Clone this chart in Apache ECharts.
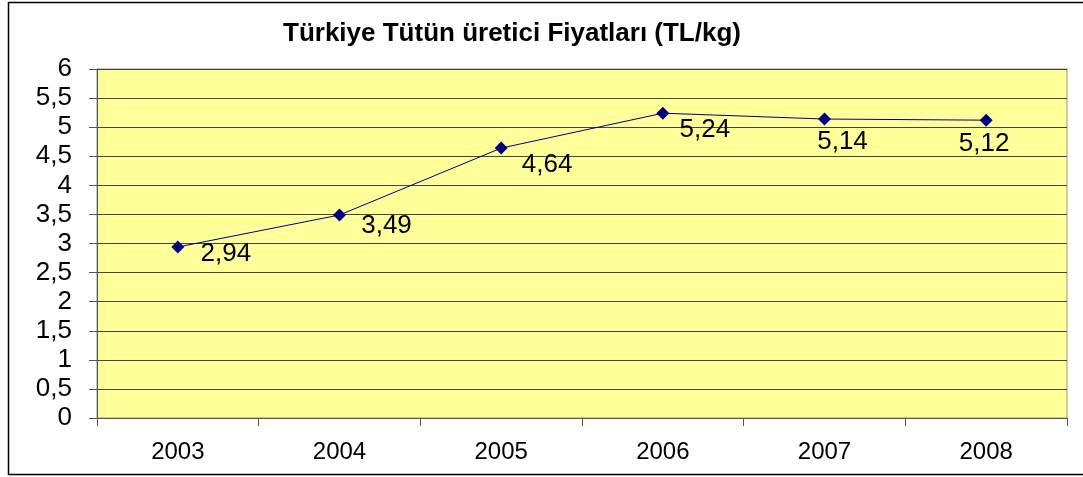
<!DOCTYPE html>
<html>
<head>
<meta charset="utf-8">
<script src="https://cdn.jsdelivr.net/npm/echarts@6/dist/echarts.min.js"></script>
<style>
    html, body { margin: 0; padding: 0; background: #fff; }
    #chart { width: 1083px; height: 477px; }
</style>
</head>
<body>
<div id="chart"></div>
<script>
// data
let years = ['2003', '2004', '2005', '2006', '2007', '2008'];
let prices = [2.94, 3.49, 4.64, 5.24, 5.14, 5.12];
let priceLabels = ['2,94', '3,49', '4,64', '5,24', '5,14', '5,12'];

// label placement per point (Excel put them in slightly different spots)
let labelOffsets = [[48, 7], [47, 11], [46, 17], [42, 17], [18, 23], [-2, 24]];

let ctx = document.getElementById("chart");
let chart = echarts.init(ctx, null, {renderer: 'canvas'});

let seriesData = prices.map((v, i) => ({
    value: v,
    label: {
        offset: labelOffsets[i],
        formatter: priceLabels[i]
    }
}));

let option = {
    animation: false,
    textStyle: {
        fontFamily: 'Liberation Sans, Arial, sans-serif'
    },
    title: {
        text: 'Türkiye Tütün üretici Fiyatları (TL/kg)',
        left: 507,
        top: 16,
        textAlign: 'center',
        textStyle: {
            fontSize: 26,
            fontWeight: 'bold',
            color: '#000'
        }
    },
    graphic: [{
        type: 'rect',
        shape: {x: 8.5, y: 2.5, width: 1090, height: 472},
        style: {fill: 'none', stroke: '#000', lineWidth: 1.5},
        z: -1
    }],
    grid: {
        left: 97,
        right: 16,
        top: 69,
        bottom: 59,
        show: true,
        backgroundColor: '#FFFF99',
        borderColor: '#999977',
        borderWidth: 1
    },
    xAxis: {
        type: 'category',
        data: years,
        boundaryGap: true,
        axisLine: {lineStyle: {color: '#555', width: 1}},
        axisTick: {show: true, length: 8, lineStyle: {color: '#555'}},
        axisLabel: {fontSize: 24, color: '#000', margin: 22}
    },
    yAxis: {
        type: 'value',
        min: 0,
        max: 6,
        interval: 0.5,
        axisLine: {show: true, lineStyle: {color: '#555', width: 1}},
        axisTick: {show: true, length: 8, lineStyle: {color: '#555'}},
        axisLabel: {
            fontSize: 26,
            color: '#000',
            margin: 25,
            formatter: v => String(v).replace('.', ',')
        },
        splitLine: {show: true, lineStyle: {color: '#444', width: 1}}
    },
    series: [{
        name: 'Fiyat',
        type: 'line',
        data: seriesData,
        symbol: 'diamond',
        symbolSize: 13,
        showSymbol: true,
        itemStyle: {color: '#000080'},
        lineStyle: {color: '#000080', width: 1},
        label: {
            show: true,
            position: 'inside',
            fontSize: 26,
            color: '#000'
        }
    }]
};

chart.setOption(option, true);

window.onresize = () => {
    chart.resize();
};
</script>
</body>
</html>
